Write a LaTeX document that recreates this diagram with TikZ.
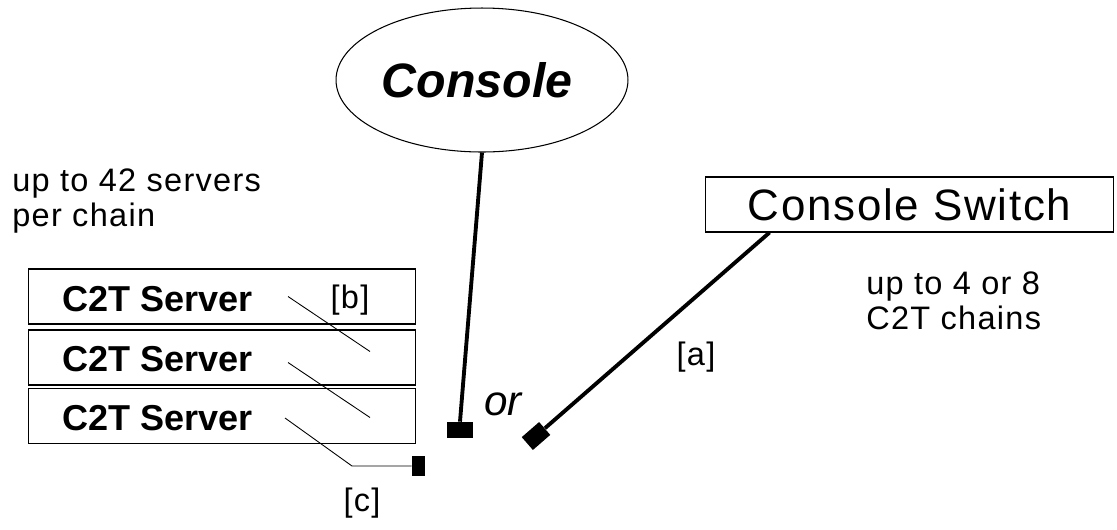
\documentclass[tikz,border=0pt]{standalone}
\usepackage{fontspec}
\setmainfont{Liberation Sans}
\newfontfamily\widesans[LetterSpace=4]{Liberation Sans}
\usetikzlibrary{shapes.geometric,calc}

\begin{document}
\begin{tikzpicture}[x=0.02cm, y=-0.02cm,
    srvbox/.style={draw, line width=0.6pt, minimum width=7.76cm, minimum height=1.1cm, inner sep=0pt},
    srvtext/.style={anchor=west, font=\fontsize{20.5}{24}\selectfont\bfseries, inner sep=0pt},
    note/.style={font=\widesans\fontsize{18.5}{20}\selectfont, align=left, inner sep=0pt},
    cable/.style={line width=2.2pt},
    link/.style={line width=0.5pt},
    plug/.style={fill=black, inner sep=0pt}]
  \useasboundingbox (0,0) rectangle (1117,529);
  % \draw[help lines, gray!50, very thin, step=50] (0,0) grid (1117,529);

  \node[ellipse, draw, line width=0.6pt, inner sep=0pt, minimum width=5.84cm, minimum height=2.88cm,
        font=\fontsize{27.5}{30}\selectfont\bfseries\itshape] (console) at (482,80) {Console\hspace*{0.2cm}};
  \node[draw, line width=0.6pt, minimum width=8.18cm, minimum height=1.1cm,
        font=\widesans\fontsize{25}{28}\selectfont] (switch) at (909.5,204.5) {Console Switch};

  \node[srvbox] (s1) at (222,296.5) {};
  \node[srvtext] (t1) at (62,299) {C2T Server};
  \node[srvbox] (s2) at (222,357.5) {};
  \node[srvtext] (t2) at (62,359) {C2T Server};
  \node[srvbox] (s3) at (222,416) {};
  \node[srvtext] (t3) at (62,418) {C2T Server};

  \node[plug, minimum width=0.52cm, minimum height=0.32cm] (p1) at (460,430) {};
  \node[plug, rotate=41, minimum width=0.46cm, minimum height=0.34cm] (p2) at (536,436) {};
  \node[plug, minimum width=0.26cm, minimum height=0.4cm] (p3) at (418.5,466) {};

  \draw[cable] (console.south) -- (p1.north);
  \draw[cable] ($(switch.south west)+(65,0)$) -- (p2.east);

  \draw[link] ([shift={(66,0)}]s1.center) -- ([shift={(148,55)}]s1.center);
  \draw[link] ([shift={(66,5)}]s2.center) -- ([shift={(148,60)}]s2.center);
  \draw[link] ([shift={(63,2)}]s3.center) -- ([shift={(130,50)}]s3.center) -- (p3.west);

  \node[note, anchor=north west] (chains) at (12,168) {up to 42 servers\\per chain};
  \node[note, anchor=north west] (switchnote) at (866,271) {up to 4 or 8\\C2T chains};
  \node[note] (la) at (696,357) {[a]};
  \node[note] (lb) at (350,300) {[b]};
  \node[note] (lc) at (362,503) {[c]};
  \node[font=\fontsize{24}{26}\selectfont\itshape] (or) at (503,404) {or};
\end{tikzpicture}
\end{document}
